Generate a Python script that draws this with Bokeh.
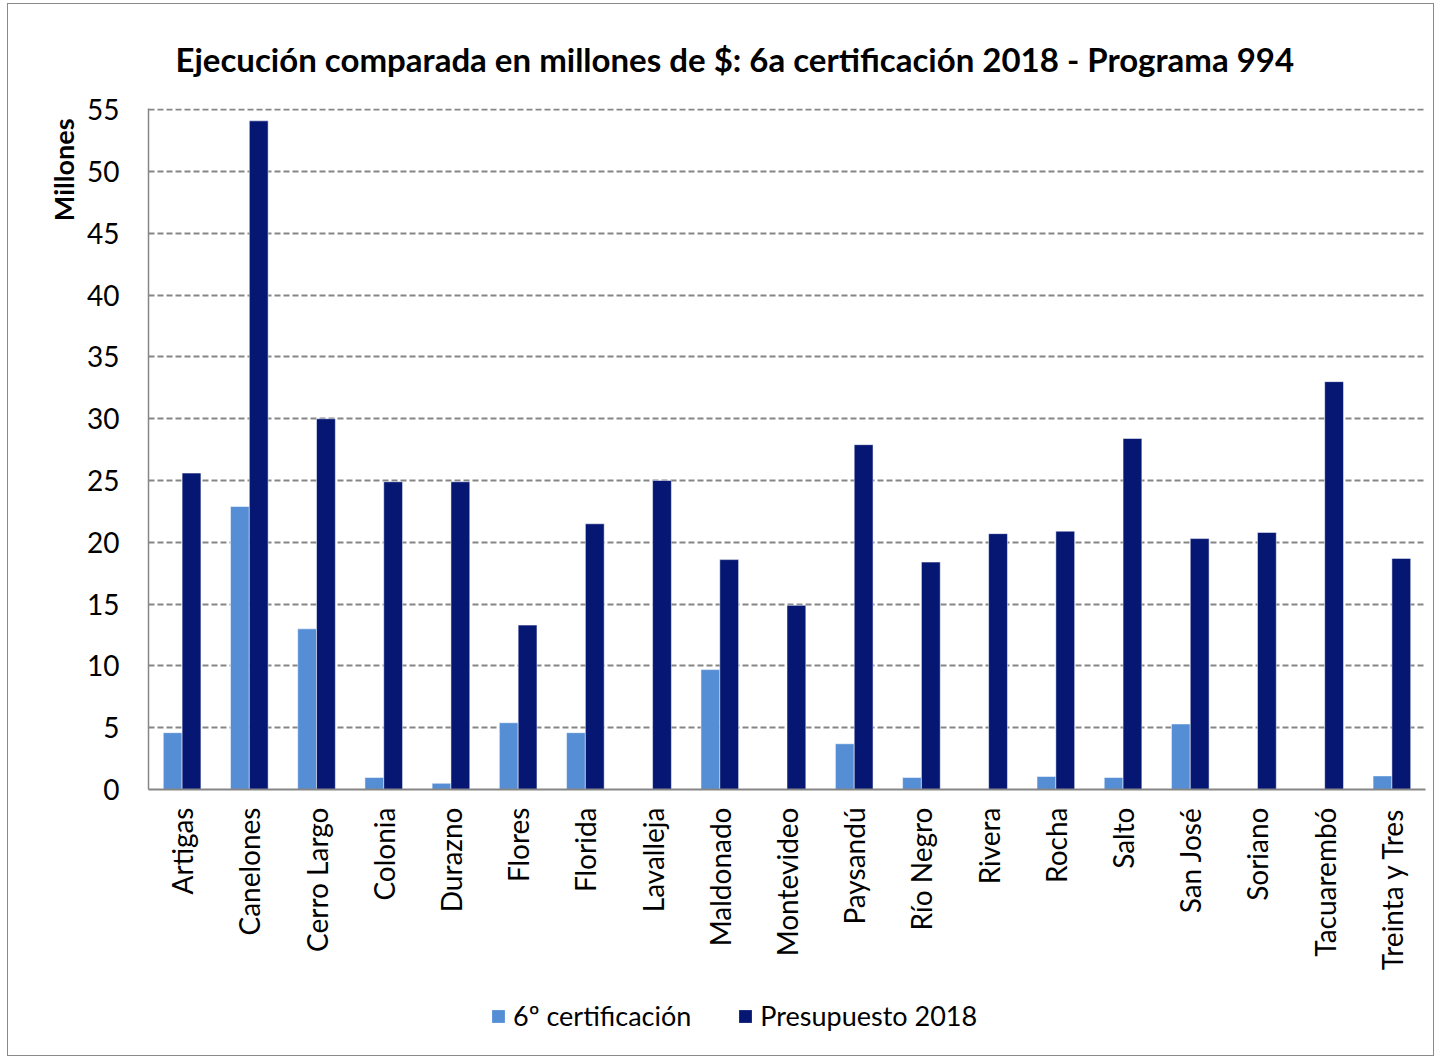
from bokeh.plotting import figure
from bokeh.layouts import column
from bokeh.models import FactorRange, Range1d, Legend, LegendItem, ColumnDataSource, Title
from bokeh.transform import dodge
from bokeh.embed import file_html
from bokeh.resources import INLINE
import math

departamentos = ["Artigas", "Canelones", "Cerro Largo", "Colonia", "Durazno", "Flores", "Florida",
                 "Lavalleja", "Maldonado", "Montevideo", "Paysandú", "Río Negro", "Rivera", "Rocha",
                 "Salto", "San José", "Soriano", "Tacuarembó", "Treinta y Tres"]
certificacion = [4.6, 22.9, 13.0, 0.97, 0.5, 5.4, 4.6, 0.0, 9.7, 0.0, 3.7, 0.97, 0.0, 1.05,
                 0.97, 5.3, 0.0, 0.0, 1.1]
presupuesto = [25.6, 54.1, 30.0, 24.9, 24.9, 13.3, 21.5, 25.0, 18.6, 14.9, 27.9, 18.4, 20.7, 20.9,
               28.4, 20.3, 20.8, 33.0, 18.7]
y_ticks = [0, 5, 10, 15, 20, 25, 30, 35, 40, 45, 50, 55]
series_names = ["6º certificación", "Presupuesto 2018"]

FONT = "Lato"
LIGHT = "#558ED5"
DARK = "#051773"
GRID = "#868686"

src = ColumnDataSource(dict(dep=departamentos, cert=certificacion, pres=presupuesto))

p = figure(width=1425, height=985, x_range=FactorRange(factors=departamentos, range_padding=0),
           y_range=Range1d(0, 55.1), output_backend="svg", toolbar_location=None,
           min_border_left=140, min_border_right=8, min_border_top=104, min_border_bottom=200)

r1 = p.vbar(x=dodge("dep", -0.14, range=p.x_range), top="cert", width=0.28, source=src,
            fill_color=LIGHT, line_color="white", line_alpha=0.5, line_width=1)
r2 = p.vbar(x=dodge("dep", 0.14, range=p.x_range), top="pres", width=0.28, source=src,
            fill_color=DARK, line_color="white", line_alpha=0.5, line_width=1)

p.title.text = "Ejecución comparada en millones de $: 6a certificación 2018 - Programa 994"
p.title.text_font = FONT
p.title.text_font_size = "33px"
p.title.text_font_style = "bold"
p.title.text_color = "black"
p.title.align = "left"
p.title.offset = 27
p.title.standoff = 60

ylab = Title(text="Millones", align="right", offset=10, standoff=10,
             text_font=FONT, text_font_size="27px", text_font_style="bold", text_color="black")
p.add_layout(ylab, "left")

p.outline_line_color = None
p.xgrid.grid_line_color = None
p.ygrid.grid_line_color = GRID
p.ygrid.grid_line_dash = "6 3"
p.ygrid.grid_line_width = 2

p.yaxis.ticker = y_ticks
p.yaxis.major_label_text_font = FONT
p.yaxis.major_label_text_font_size = "28px"
p.yaxis.major_label_text_color = "black"
p.yaxis.major_label_standoff = 23
p.yaxis.major_tick_line_color = None
p.yaxis.minor_tick_line_color = None
p.yaxis.axis_line_color = GRID
p.yaxis.axis_line_width = 1.5

p.xaxis.major_label_orientation = math.pi / 2
p.xaxis.major_label_text_font = FONT
p.xaxis.major_label_text_font_size = "28px"
p.xaxis.major_label_text_color = "black"
p.xaxis.major_label_standoff = 12
p.xaxis.major_tick_line_color = None
p.xaxis.axis_line_color = GRID
p.xaxis.axis_line_width = 2

# legend strip below the chart (dummy renderers with no drawable point)
lg = figure(width=1425, height=66, x_range=Range1d(0, 1), y_range=Range1d(0, 1),
            output_backend="svg", toolbar_location=None, x_axis_location=None, y_axis_location=None,
            min_border=0)
lg.outline_line_color = None
lg.grid.grid_line_color = None
esrc = ColumnDataSource(dict(x=[float("nan")], top=[float("nan")]))
l1 = lg.vbar(x="x", top="top", width=0.1, source=esrc, fill_color=LIGHT, line_color=None)
l2 = lg.vbar(x="x", top="top", width=0.1, source=esrc, fill_color=DARK, line_color=None)
legend = Legend(items=[LegendItem(label=series_names[0], renderers=[l1]),
                       LegendItem(label=series_names[1], renderers=[l2])],
                orientation="horizontal", location=(342, 23),
                label_text_font=FONT, label_text_font_size="27px", label_text_color="black",
                glyph_width=16, glyph_height=16, label_standoff=7, spacing=46,
                padding=2, margin=0, border_line_color=None, background_fill_alpha=0)
lg.add_layout(legend, "center")

layout = column(p, lg, spacing=0)
layout.styles = {"border": "1.5px solid #8a8a8a", "margin-left": "7px", "margin-top": "3px"}

open("out.html", "w").write(file_html(layout, INLINE))
